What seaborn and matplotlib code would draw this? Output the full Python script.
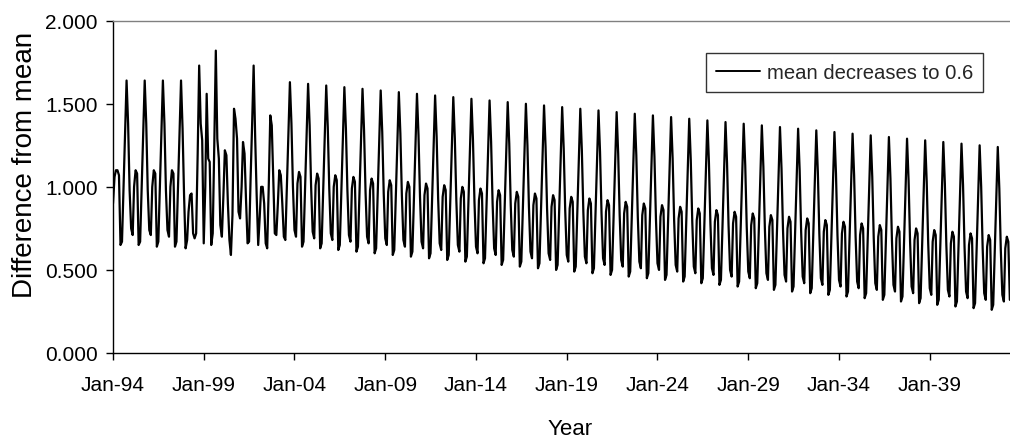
import numpy as np
import pandas as pd
import matplotlib
matplotlib.use("Agg")
import matplotlib.pyplot as plt
import seaborn as sns

# Monthly values, January 1994 onwards (one row of 12 per year)
vals_1994_2003 = [
    0.90, 1.06, 1.10, 1.10, 1.07, 0.65, 0.67, 1.00, 1.31, 1.64, 1.38, 0.98,
    0.75, 0.71, 1.00, 1.10, 1.08, 0.65, 0.67, 1.00, 1.31, 1.64, 1.38, 0.98,
    0.74, 0.71, 1.00, 1.10, 1.08, 0.64, 0.67, 1.00, 1.31, 1.64, 1.38, 0.98,
    0.74, 0.70, 1.00, 1.10, 1.08, 0.64, 0.67, 1.00, 1.31, 1.64, 1.35, 0.95,
    0.63, 0.68, 0.85, 0.95, 0.96, 0.72, 0.69, 0.72, 1.20, 1.73, 1.38, 1.28,
    0.66, 1.00, 1.56, 1.17, 1.15, 0.65, 0.72, 1.25, 1.82, 1.29, 1.17, 0.77,
    0.70, 0.95, 1.22, 1.19, 0.90, 0.68, 0.59, 0.83, 1.47, 1.41, 1.29, 0.85,
    0.81, 1.00, 1.27, 1.20, 0.92, 0.66, 0.67, 1.05, 1.38, 1.73, 1.30, 0.95,
    0.65, 0.82, 1.00, 1.00, 0.90, 0.66, 0.63, 1.00, 1.43, 1.37, 1.05, 0.72,
    0.71, 0.90, 1.10, 1.07, 0.90, 0.70, 0.68, 1.00, 1.32, 1.63, 1.38, 1.00,
]
vals_2004_2013 = [
    0.74, 0.70, 1.02, 1.09, 1.06, 0.64, 0.67, 0.99, 1.31, 1.62, 1.37, 1.00,
    0.73, 0.69, 1.01, 1.08, 1.05, 0.63, 0.66, 0.98, 1.30, 1.61, 1.36, 0.99,
    0.72, 0.68, 1.00, 1.07, 1.04, 0.62, 0.65, 0.97, 1.29, 1.60, 1.35, 0.98,
    0.71, 0.67, 0.99, 1.06, 1.03, 0.61, 0.64, 0.96, 1.28, 1.59, 1.34, 0.97,
    0.70, 0.66, 0.98, 1.05, 1.02, 0.60, 0.63, 0.95, 1.27, 1.58, 1.33, 0.96,
    0.69, 0.65, 0.97, 1.04, 1.01, 0.59, 0.62, 0.94, 1.26, 1.57, 1.32, 0.95,
    0.68, 0.64, 0.96, 1.03, 1.00, 0.58, 0.61, 0.93, 1.25, 1.56, 1.31, 0.94,
    0.67, 0.63, 0.95, 1.02, 0.99, 0.57, 0.60, 0.92, 1.24, 1.55, 1.30, 0.93,
    0.66, 0.62, 0.94, 1.01, 0.98, 0.56, 0.59, 0.91, 1.23, 1.54, 1.29, 0.92,
    0.65, 0.61, 0.93, 1.00, 0.97, 0.55, 0.58, 0.90, 1.22, 1.53, 1.28, 0.91,
]
vals_2014_2023 = [
    0.64, 0.60, 0.92, 0.99, 0.96, 0.54, 0.57, 0.89, 1.21, 1.52, 1.27, 0.90,
    0.63, 0.59, 0.91, 0.98, 0.95, 0.53, 0.56, 0.88, 1.20, 1.51, 1.26, 0.89,
    0.62, 0.58, 0.90, 0.97, 0.94, 0.52, 0.55, 0.87, 1.19, 1.50, 1.25, 0.88,
    0.61, 0.57, 0.89, 0.96, 0.93, 0.51, 0.54, 0.86, 1.18, 1.49, 1.24, 0.87,
    0.60, 0.56, 0.88, 0.95, 0.92, 0.50, 0.53, 0.85, 1.17, 1.48, 1.23, 0.86,
    0.59, 0.55, 0.87, 0.94, 0.91, 0.49, 0.52, 0.84, 1.16, 1.47, 1.22, 0.85,
    0.58, 0.54, 0.86, 0.93, 0.90, 0.48, 0.51, 0.83, 1.15, 1.46, 1.21, 0.84,
    0.57, 0.53, 0.85, 0.92, 0.89, 0.47, 0.50, 0.82, 1.14, 1.45, 1.20, 0.83,
    0.56, 0.52, 0.84, 0.91, 0.88, 0.46, 0.49, 0.81, 1.13, 1.44, 1.19, 0.82,
    0.55, 0.51, 0.83, 0.90, 0.87, 0.45, 0.48, 0.80, 1.12, 1.43, 1.18, 0.81,
]
vals_2024_2033 = [
    0.54, 0.50, 0.82, 0.89, 0.86, 0.44, 0.47, 0.79, 1.11, 1.42, 1.17, 0.80,
    0.53, 0.49, 0.81, 0.88, 0.85, 0.43, 0.46, 0.78, 1.10, 1.41, 1.16, 0.79,
    0.52, 0.48, 0.80, 0.87, 0.84, 0.42, 0.45, 0.77, 1.09, 1.40, 1.15, 0.78,
    0.51, 0.47, 0.79, 0.86, 0.83, 0.41, 0.44, 0.76, 1.08, 1.39, 1.14, 0.77,
    0.50, 0.46, 0.78, 0.85, 0.82, 0.40, 0.43, 0.75, 1.07, 1.38, 1.13, 0.76,
    0.49, 0.45, 0.77, 0.84, 0.81, 0.39, 0.42, 0.74, 1.06, 1.37, 1.12, 0.75,
    0.48, 0.44, 0.76, 0.83, 0.80, 0.38, 0.41, 0.73, 1.05, 1.36, 1.11, 0.74,
    0.47, 0.43, 0.75, 0.82, 0.79, 0.37, 0.40, 0.72, 1.04, 1.35, 1.10, 0.73,
    0.46, 0.42, 0.74, 0.81, 0.78, 0.36, 0.39, 0.71, 1.03, 1.34, 1.09, 0.72,
    0.45, 0.41, 0.73, 0.80, 0.77, 0.35, 0.38, 0.70, 1.02, 1.33, 1.08, 0.71,
]
vals_2034_2043 = [
    0.44, 0.40, 0.72, 0.79, 0.76, 0.34, 0.37, 0.69, 1.01, 1.32, 1.07, 0.70,
    0.43, 0.39, 0.71, 0.78, 0.75, 0.33, 0.36, 0.68, 1.00, 1.31, 1.06, 0.69,
    0.42, 0.38, 0.70, 0.77, 0.74, 0.32, 0.35, 0.67, 0.99, 1.30, 1.05, 0.68,
    0.41, 0.37, 0.69, 0.76, 0.73, 0.31, 0.34, 0.66, 0.98, 1.29, 1.04, 0.67,
    0.40, 0.36, 0.68, 0.75, 0.72, 0.30, 0.33, 0.65, 0.97, 1.28, 1.03, 0.66,
    0.39, 0.35, 0.67, 0.74, 0.71, 0.29, 0.32, 0.64, 0.96, 1.27, 1.02, 0.65,
    0.38, 0.34, 0.66, 0.73, 0.70, 0.28, 0.31, 0.63, 0.95, 1.26, 1.01, 0.64,
    0.37, 0.33, 0.65, 0.72, 0.69, 0.27, 0.30, 0.62, 0.94, 1.25, 1.00, 0.63,
    0.36, 0.32, 0.64, 0.71, 0.68, 0.26, 0.29, 0.61, 0.93, 1.24, 0.99, 0.62,
    0.35, 0.31, 0.63, 0.70, 0.67, 0.32,
]

series_label = "mean decreases to 0.6"
xtick_labels = ["Jan-94", "Jan-99", "Jan-04", "Jan-09", "Jan-14",
                "Jan-19", "Jan-24", "Jan-29", "Jan-34", "Jan-39"]
ytick_values = [0.0, 0.5, 1.0, 1.5, 2.0]

values = (vals_1994_2003 + vals_2004_2013 + vals_2014_2023
          + vals_2024_2033 + vals_2034_2043)
dates = pd.date_range("1994-01-01", periods=len(values), freq="MS")
df = pd.DataFrame({"date": dates, "value": values})

sns.set_style("ticks")
plt.rcParams["font.family"] = ["Liberation Sans", "DejaVu Sans"]

fig = plt.figure(figsize=(10.10, 4.39), dpi=100)
ax = fig.add_axes([113 / 1010, 1 - 354 / 439, 897 / 1010, 332.3 / 439])

sns.lineplot(data=df, x="date", y="value", color="black", linewidth=1.6,
             label=series_label, ax=ax)

ax.set_xlim(dates[0], dates[-1] + pd.Timedelta(days=3))
ax.set_ylim(0, 2)

tick_dates = pd.to_datetime(xtick_labels, format="%b-%y")
ax.set_xticks(tick_dates)
ax.set_xticklabels(xtick_labels)
ax.set_yticks(ytick_values)
ax.set_yticklabels([f"{v:.3f}" for v in ytick_values])

ax.tick_params(axis="x", direction="out", length=5, width=1, color="black",
               labelsize=15, pad=10.5, labelcolor="black")
ax.tick_params(axis="y", direction="out", length=5, width=1, color="black",
               labelsize=15, pad=6, labelcolor="black")

for side in ("left", "bottom"):
    ax.spines[side].set_color("black")
    ax.spines[side].set_linewidth(1.0)
ax.spines["top"].set_color("#808080")
ax.spines["top"].set_linewidth(1.0)
ax.spines["right"].set_visible(False)

ax.set_xlabel("Year", fontsize=16, color="black")
ax.set_ylabel("Difference from mean", fontsize=20, color="black")
ax.xaxis.set_label_coords(0.5095, -0.195)
ax.yaxis.set_label_coords(-0.0836, 0.57)

leg = ax.legend(loc="upper right", bbox_to_anchor=(0.9702, 0.9019),
                borderaxespad=0, frameon=True, fancybox=False,
                edgecolor="black", fontsize=14.6, handlelength=2.2,
                handletextpad=0.35, borderpad=0.48)
leg.get_frame().set_linewidth(1.0)
for line in leg.get_lines():
    line.set_linewidth(1.4)

fig.savefig("out.png", dpi=100)
